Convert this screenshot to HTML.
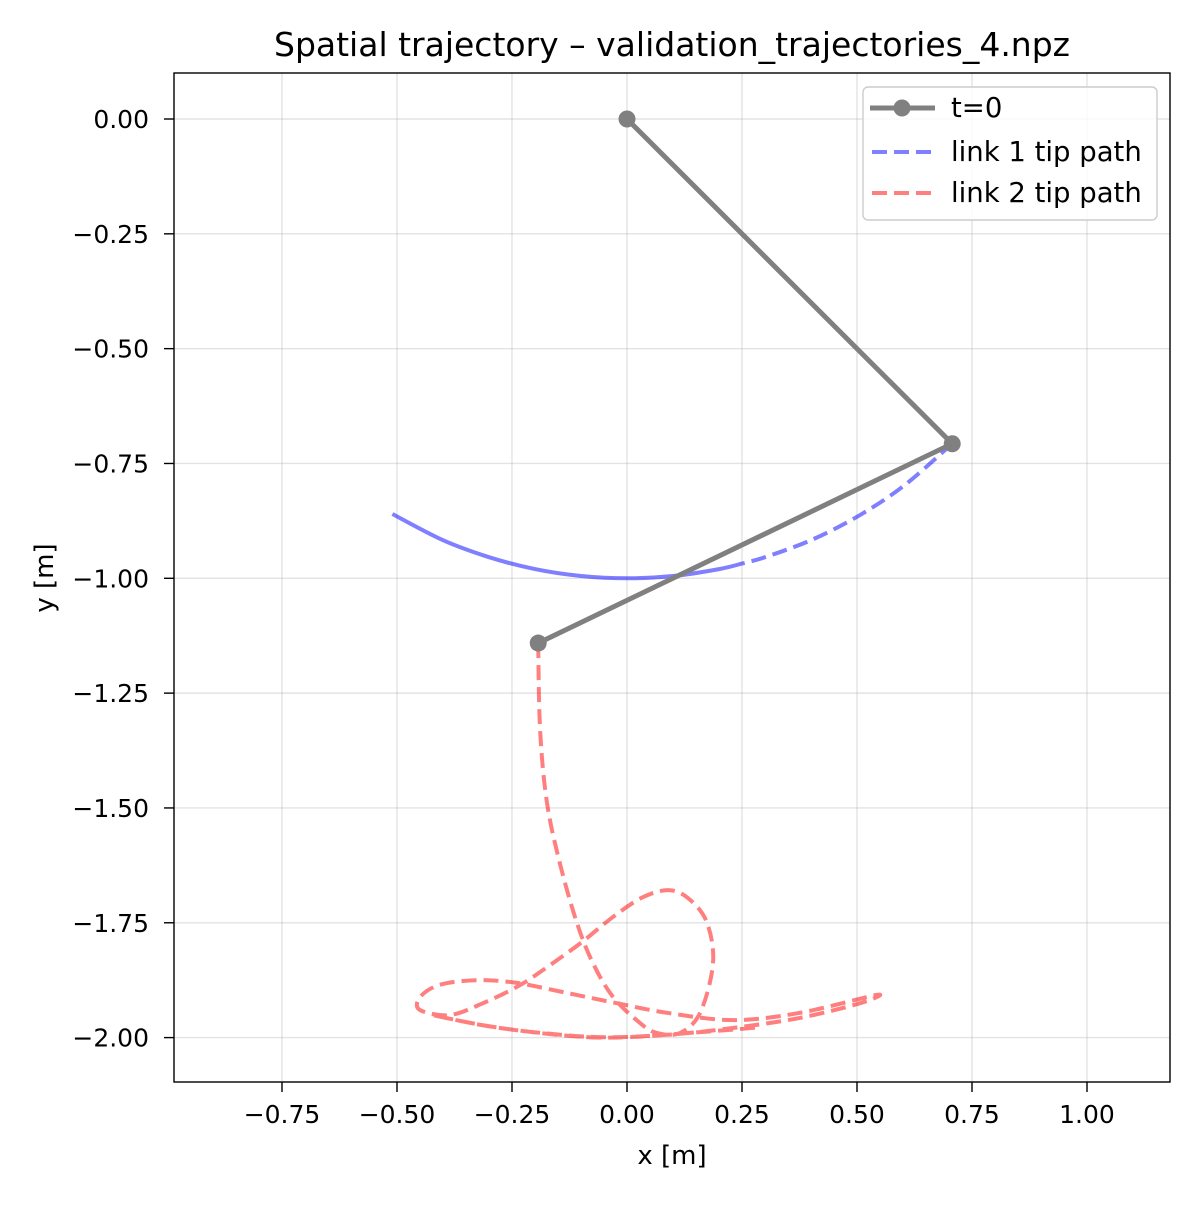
<!DOCTYPE html>
<html><head><meta charset="utf-8"><style>
body{margin:0;background:#fff}
svg text{font-family:"DejaVu Sans","Liberation Sans",sans-serif;fill:#000}
</style></head><body>
<svg id="c" width="1200" height="1200" xmlns="http://www.w3.org/2000/svg"></svg>
<script>
const xTicks=[-0.75,-0.5,-0.25,0,0.25,0.5,0.75,1.0];
const xTickLabels=["−0.75","−0.50","−0.25","0.00","0.25","0.50","0.75","1.00"];
const yTicks=[0,-0.25,-0.5,-0.75,-1,-1.25,-1.5,-1.75,-2];
const yTickLabels=["0.00","−0.25","−0.50","−0.75","−1.00","−1.25","−1.50","−1.75","−2.00"];
const armX=[0,0.707,-0.193];
const armY=[0,-0.707,-1.141];
const link1X=[0.707,0.6,0.5,0.4,0.3,0.25,0.2,0.1,0,-0.1,-0.2,-0.3,-0.4,-0.51];
const link1Y=[-0.707,-0.8,-0.866,-0.917,-0.954,-0.968,-0.980,-0.995,-1,-0.995,-0.980,-0.954,-0.917,-0.86];
const link2X=[-0.193,-0.189,-0.174,-0.146,-0.109,-0.074,-0.030,0.028,0.065,0.115,0.159,0.187,0.174,0.137,0.093,0.035,-0.030,-0.098,-0.167,-0.233,-0.313,-0.385,-0.450,-0.450,-0.407,-0.326,-0.239,-0.130,-0.022,0.087,0.230,0.376,0.543,0.507,0.376,0.230,0.087,-0.059,-0.204,-0.313,-0.422,-0.276,-0.059,0.159,0.293];
const link2Y=[-1.141,-1.330,-1.489,-1.620,-1.750,-1.838,-1.912,-1.968,-1.990,-1.990,-1.946,-1.838,-1.750,-1.700,-1.679,-1.694,-1.737,-1.792,-1.842,-1.886,-1.925,-1.951,-1.940,-1.912,-1.885,-1.875,-1.881,-1.903,-1.925,-1.946,-1.962,-1.946,-1.907,-1.925,-1.957,-1.979,-1.994,-1.999,-1.988,-1.973,-1.951,-1.979,-2.000,-1.988,-1.977];

const L=174,R=1170,T=73,B=1082;
const sx=v=>627+v*460;
const sy=v=>119-v*459.3;
const svg=document.getElementById('c');
const NS="http://www.w3.org/2000/svg";
function mk(t,a,p){const e=document.createElementNS(NS,t);for(const k in a)e.setAttribute(k,a[k]);(p||svg).appendChild(e);return e;}

xTicks.forEach((v,i)=>{
  const g=mk('line',{x1:sx(v),x2:sx(v),y1:T,y2:B,stroke:'#b0b0b0','stroke-opacity':0.35,'stroke-width':1.4});
  
  
  mk('line',{x1:sx(v),x2:sx(v),y1:B,y2:B+10,stroke:'#000','stroke-width':1.4});
  const t=mk('text',{x:sx(v),y:B+41,'text-anchor':'middle','font-size':25});
  t.textContent=xTickLabels[i];
  
  
});
yTicks.forEach((v,i)=>{
  const g=mk('line',{x1:L,x2:R,y1:sy(v),y2:sy(v),stroke:'#b0b0b0','stroke-opacity':0.35,'stroke-width':1.4});
  
  
  mk('line',{x1:L-10,x2:L,y1:sy(v),y2:sy(v),stroke:'#000','stroke-width':1.4});
  const t=mk('text',{x:L-25,y:sy(v)+9,'text-anchor':'end','font-size':25});
  t.textContent=yTickLabels[i];
  
  
});

function smooth(xs,ys){
  const P=xs.map((x,i)=>[sx(x),sy(ys[i])]);
  let d='M'+P[0][0].toFixed(1)+','+P[0][1].toFixed(1);
  for(let i=0;i<P.length-1;i++){
    const p0=P[Math.max(0,i-1)],p1=P[i],p2=P[i+1],p3=P[Math.min(P.length-1,i+2)];
    const c1=[p1[0]+(p2[0]-p0[0])/6,p1[1]+(p2[1]-p0[1])/6];
    const c2=[p2[0]-(p3[0]-p1[0])/6,p2[1]-(p3[1]-p1[1])/6];
    d+=' C'+c1.map(v=>v.toFixed(1)).join(',')+' '+c2.map(v=>v.toFixed(1)).join(',')+' '+p2.map(v=>v.toFixed(1)).join(',');
  }
  return d;
}
function pts(xs,ys){return xs.map((x,i)=>sx(x).toFixed(1)+','+sy(ys[i]).toFixed(1)).join(' ');}
const l1s=mk('path',{d:smooth(link1X.slice(5),link1Y.slice(5)),fill:'none',stroke:'#0000ff','stroke-opacity':0.5,'stroke-width':4});


const l1=mk('path',{d:smooth(link1X.slice(0,6),link1Y.slice(0,6)),fill:'none',stroke:'#0000ff','stroke-opacity':0.5,'stroke-width':4,'stroke-dasharray':'15,7'});


const l2=mk('path',{d:smooth(link2X,link2Y),fill:'none',stroke:'#ff0000','stroke-opacity':0.5,'stroke-width':4,'stroke-dasharray':'15,7'});


const arm=mk('polyline',{points:pts(armX,armY),fill:'none',stroke:'#808080','stroke-width':5});


armX.forEach((x,i)=>{
  const c=mk('circle',{cx:sx(x),cy:sy(armY[i]),r:8.5,fill:'#808080'});
  
  
});
const fr=mk('rect',{x:L,y:T,width:R-L,height:B-T,fill:'none',stroke:'#000','stroke-width':1.4});


let t=mk('text',{x:672,y:56,'text-anchor':'middle','font-size':33});t.textContent='Spatial trajectory – validation_trajectories_4.npz';


t=mk('text',{x:672,y:1164,'text-anchor':'middle','font-size':26});t.textContent='x [m]';


t=mk('text',{x:0,y:0,'text-anchor':'middle','font-size':26,transform:'translate(53,578) rotate(-90)'});t.textContent='y [m]';


const lg=mk('g',{});


mk('rect',{x:863,y:87,width:294,height:133,rx:5,fill:'#fff','fill-opacity':0.8,stroke:'#ccc','stroke-width':1.4},lg);
mk('line',{x1:870,x2:935,y1:108,y2:108,stroke:'#808080','stroke-width':5},lg);
mk('circle',{cx:902,cy:108,r:8.5,fill:'#808080'},lg);
mk('line',{x1:872,x2:935,y1:152,y2:152,stroke:'#0000ff','stroke-opacity':0.5,'stroke-width':4,'stroke-dasharray':'15,7'},lg);
mk('line',{x1:872,x2:935,y1:193,y2:193,stroke:'#ff0000','stroke-opacity':0.5,'stroke-width':4,'stroke-dasharray':'15,7'},lg);
[['t=0',117,'legend-entry-t0'],['link 1 tip path',161,'legend-entry-link1'],['link 2 tip path',202,'legend-entry-link2']].forEach(d=>{
  const e=mk('text',{x:951,y:d[1],'font-size':27.5},lg);e.textContent=d[0];
  
  
});
</script>
</body></html>
